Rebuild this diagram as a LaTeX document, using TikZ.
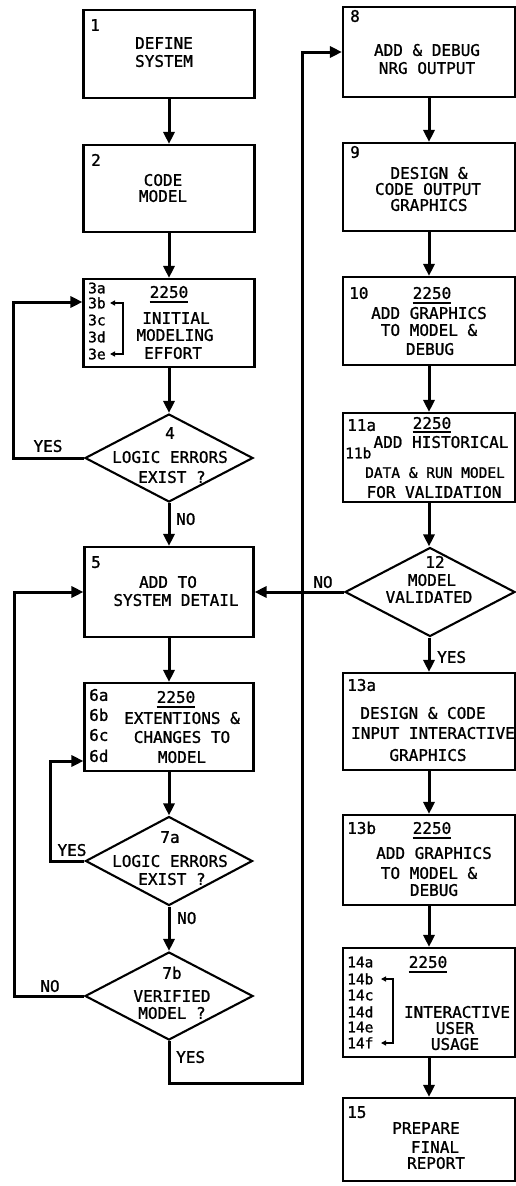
\documentclass[tikz,border=0pt]{standalone}
\usepackage{fontspec}
\newfontfamily\tmono[FakeBold=1.2]{DejaVu Sans Mono}
\usetikzlibrary{arrows.meta,shapes.geometric}
\begin{document}
\begin{tikzpicture}[x=1pt,y=-1pt,
  box/.style={draw, line width=2.1pt, inner sep=0pt},
  dia/.style={draw, diamond, line width=2.1pt, inner sep=0pt},
  conn/.style={line width=3pt, -{Triangle[length=12pt,width=11pt]}},
  brk/.style={line width=1.3pt, {Triangle[length=5pt,width=5pt]}-{Triangle[length=5pt,width=5pt]}},
  txt/.style={font=\tmono\fontsize{16pt}{18pt}\selectfont, inner sep=0pt, text height=11.7pt, text depth=0pt, anchor=center},
  small/.style={font=\tmono\fontsize{14.5pt}{16pt}\selectfont},
  tag/.style={font=\tmono\fontsize{14.5pt}{16pt}\selectfont, text height=10.6pt},
  lbl/.style={txt, anchor=west},
  uline/.style={line width=1.5pt}
]
\fill[white] (0,0) rectangle (516,1186);
\useasboundingbox (0,0) rectangle (516,1186);

% ---------- left column boxes ----------
\node[box, minimum width=171pt, minimum height=88pt] (b1) at (169,54) {};
\node[lbl] (n1) at (90,25) {1};
\node[txt] (t1a) at (164,43) {DEFINE};
\node[txt] (t1b) at (164,61) {SYSTEM};

\node[box, minimum width=171pt, minimum height=87pt] (b2) at (169,188.5) {};
\node[lbl] (n2) at (91,160) {2};
\node[txt] (t2a) at (163,180) {CODE};
\node[txt] (t2b) at (163,196) {MODEL};

\node[box, minimum width=171pt, minimum height=88pt] (b3) at (169,323) {};
\node[lbl, tag] (l3a) at (88,288) {3a};
\node[lbl, tag] (l3b) at (88,303) {3b};
\node[lbl, tag] (l3c) at (88,320) {3c};
\node[lbl, tag] (l3d) at (88,337) {3d};
\node[lbl, tag] (l3e) at (88,354) {3e};
\node[txt] (u3) at (169,292) {2250};
\draw[uline] ([yshift=-4pt]u3.south west) -- ([yshift=-4pt]u3.south east);
\node[txt] (t3a) at (176,318) {INITIAL};
\node[txt] (t3b) at (175,335) {MODELING};
\node[txt] (t3c) at (173,353) {EFFORT};
\coordinate (k3b) at (110,303);
\coordinate (k3e) at (110,354);
\draw[brk] (k3b) -- (123,303) -- (123,354) -- (k3e);

\node[dia, minimum width=168pt, minimum height=88pt] (d4) at (169,458) {};
\node[txt] (t4a) at (170,433) {4};
\node[txt] (t4b) at (170,457) {LOGIC ERRORS};
\node[txt] (t4c) at (172,477) {EXIST ?};

\node[box, minimum width=169pt, minimum height=90pt] (b5) at (169,592) {};
\node[lbl] (n5) at (91,562) {5};
\node[txt] (t5a) at (168,582) {ADD TO};
\node[txt] (t5b) at (176,600) {SYSTEM DETAIL};

\node[box, minimum width=169pt, minimum height=88pt] (b6) at (169,727) {};
\node[lbl] (l6a) at (89,695) {6a};
\node[lbl] (l6b) at (89,715) {6b};
\node[lbl] (l6c) at (89,735) {6c};
\node[lbl] (l6d) at (89,756) {6d};
\node[txt] (u6) at (176,697) {2250};
\draw[uline] ([yshift=-4pt]u6.south west) -- ([yshift=-4pt]u6.south east);
\node[txt] (t6a) at (182,718) {EXTENTIONS \&};
\node[txt] (t6b) at (182,737) {CHANGES TO};
\node[txt] (t6c) at (182,757) {MODEL};

\node[dia, minimum width=167pt, minimum height=89pt] (d7a) at (169,861) {};
\node[txt] (t7aa) at (170,837) {7a};
\node[txt] (t7ab) at (170,861) {LOGIC ERRORS};
\node[txt] (t7ac) at (172,879) {EXIST ?};

\node[dia, minimum width=168pt, minimum height=88pt] (d7b) at (169,996) {};
\node[txt] (t7ba) at (172,973) {7b};
\node[txt] (t7bb) at (172,996) {VERIFIED};
\node[txt] (t7bc) at (172,1013) {MODEL ?};

% ---------- right column boxes ----------
\node[box, minimum width=172pt, minimum height=90pt] (b8) at (429,52) {};
\node[lbl] (n8) at (350,16) {8};
\node[txt] (t8a) at (427,50) {ADD \& DEBUG};
\node[txt] (t8b) at (427,68) {NRG OUTPUT};

\node[box, minimum width=172pt, minimum height=88pt] (b9) at (429,187) {};
\node[lbl] (n9) at (350,152) {9};
\node[txt] (t9a) at (429,173) {DESIGN \&};
\node[txt] (t9b) at (428,189) {CODE OUTPUT};
\node[txt] (t9c) at (429,205) {GRAPHICS};

\node[box, minimum width=172pt, minimum height=88pt] (b10) at (429,321) {};
\node[lbl] (n10) at (349,293) {10};
\node[txt] (u10) at (432,293) {2250};
\draw[uline] ([yshift=-4pt]u10.south west) -- ([yshift=-4pt]u10.south east);
\node[txt] (t10a) at (429,313) {ADD GRAPHICS};
\node[txt] (t10b) at (429,330) {TO MODEL \&};
\node[txt] (t10c) at (430,349) {DEBUG};

\node[box, minimum width=172pt, minimum height=89pt] (b11) at (429,457.5) {};
\node[lbl] (n11a) at (347,425) {11a};
\node[lbl, tag] (n11b) at (345,453) {11b};
\node[txt] (u11) at (432,423) {2250};
\draw[uline] ([yshift=-3pt]u11.south west) -- ([yshift=-3pt]u11.south east);
\node[txt] (t11a) at (441,442) {ADD HISTORICAL};
\node[txt, small] (t11b) at (435,472) {DATA \& RUN MODEL};
\node[txt] (t11c) at (434,492) {FOR VALIDATION};

\node[dia, minimum width=170pt, minimum height=89pt] (d12) at (430,592) {};
\node[txt] (t12a) at (435,562) {12};
\node[txt] (t12b) at (432,580) {MODEL};
\node[txt] (t12c) at (429,597) {VALIDATED};

\node[box, minimum width=172pt, minimum height=97pt] (b13a) at (429,721.5) {};
\node[lbl] (n13a) at (347,685) {13a};
\node[txt] (t13aa) at (423,713) {DESIGN \& CODE};
\node[txt] (t13ab) at (433,733) {INPUT INTERACTIVE};
\node[txt] (t13ac) at (428,755) {GRAPHICS};

\node[box, minimum width=172pt, minimum height=90pt] (b13b) at (429,860) {};
\node[lbl] (n13b) at (347,828) {13b};
\node[txt] (u13b) at (432,828) {2250};
\draw[uline] ([yshift=-4pt]u13b.south west) -- ([yshift=-4pt]u13b.south east);
\node[txt] (t13ba) at (434,853) {ADD GRAPHICS};
\node[txt] (t13bb) at (429,873) {TO MODEL \&};
\node[txt] (t13bc) at (434,890) {DEBUG};

\node[box, minimum width=172pt, minimum height=109pt] (b14) at (429,1002.5) {};
\node[lbl, tag] (l14a) at (347,962) {14a};
\node[lbl, tag] (l14b) at (347,979) {14b};
\node[lbl, tag] (l14c) at (347,995) {14c};
\node[lbl, tag] (l14d) at (347,1012) {14d};
\node[lbl, tag] (l14e) at (347,1027) {14e};
\node[lbl, tag] (l14f) at (347,1043) {14f};
\node[txt] (u14) at (428,962) {2250};
\draw[uline] ([yshift=-4pt]u14.south west) -- ([yshift=-4pt]u14.south east);
\node[txt] (t14a) at (457,1012) {INTERACTIVE};
\node[txt] (t14b) at (455,1028) {USER};
\node[txt] (t14c) at (455,1044) {USAGE};
\coordinate (k14b) at (381,979);
\coordinate (k14f) at (381,1043);
\draw[brk] (k14b) -- (393,979) -- (393,1043) -- (k14f);

\node[box, minimum width=172pt, minimum height=83pt] (b15) at (429,1139.5) {};
\node[lbl] (n15) at (347,1112) {15};
\node[txt] (t15a) at (426,1128) {PREPARE};
\node[txt] (t15b) at (435,1147) {FINAL};
\node[txt] (t15c) at (436,1163) {REPORT};

% ---------- connectors ----------
\draw[conn] (b1.south) -- (b2.north);
\draw[conn] (b2.south) -- (b3.north);
\draw[conn] (b3.south) -- (d4.north);
\draw[conn] (d4.south) -- (b5.north);
\draw[conn] (b5.south) -- (b6.north);
\draw[conn] (b6.south) -- (d7a.north);
\draw[conn] (d7a.south) -- (d7b.north);

\coordinate (c1) at (13,302);
\draw[conn] (d4.west) -| (c1) -- (c1 -| b3.west);
\coordinate (c2) at (50,761);
\draw[conn] (d7a.west) -| (c2) -- (c2 -| b6.west);
\coordinate (c3) at (14,592);
\draw[conn] (d7b.west) -| (c3) -- (c3 -| b5.west);
\coordinate (c4) at (302,1083);
\draw[conn] (d7b.south) |- (c4) |- (b8.west);

\draw[conn] (b8.south) -- (b9.north);
\draw[conn] (b9.south) -- (b10.north);
\draw[conn] (b10.south) -- (b11.north);
\draw[conn] (b11.south) -- (d12.north -| b11.south);
\draw[conn] (d12.west) -- (b5.east);
\draw[conn] (d12.south -| b13a.north) -- (b13a.north);
\draw[conn] (b13a.south) -- (b13b.north);
\draw[conn] (b13b.south) -- (b14.north);
\draw[conn] (b14.south) -- (b15.north);

% ---------- branch labels ----------
\node[txt] (y4) at (48,446) {YES};
\node[lbl] (no4) at (176,519) {NO};
\node[txt] (y7a) at (72,850) {YES};
\node[lbl] (no7a) at (177,918) {NO};
\node[txt] (no7b) at (50,986) {NO};
\node[lbl] (y7b) at (176,1057) {YES};
\node[txt] (no12) at (323,582) {NO};
\node[lbl] (y12) at (437,657) {YES};
\end{tikzpicture}
\end{document}
